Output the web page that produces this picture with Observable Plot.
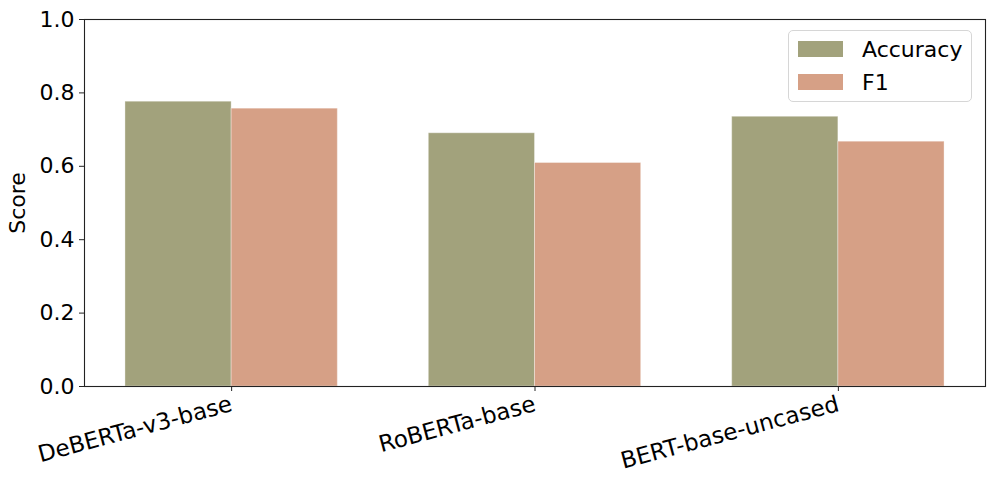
<!DOCTYPE html>
<html>
<head>
<meta charset="utf-8">
<script src="https://cdn.jsdelivr.net/npm/d3@7"></script>
<script src="https://cdn.jsdelivr.net/npm/@observablehq/plot@0.6"></script>
<style>
  html, body { margin: 0; padding: 0; background: #fff; }
  #wrap { position: relative; width: 996px; height: 485px; font-family: "DejaVu Sans", sans-serif; }
  .legend { position: absolute; left: 788px; top: 30px; width: 184px; height: 72px;
    border: 1px solid #d6d6d6; border-radius: 5px; background: rgba(255,255,255,0.85); box-sizing: border-box; }
  .legend .item { position: absolute; left: 9px; height: 22px; display: flex; align-items: center; font-size: 22px; color: #000; }
  .legend .sw { width: 45px; height: 16px; margin-right: 19px; }
</style>
</head>
<body>
<div id="wrap"></div>
<script>
const models = ["DeBERTa-v3-base", "RoBERTa-base", "BERT-base-uncased"];
const accuracy = [0.776, 0.690, 0.735];
const f1 = [0.757, 0.609, 0.667];
const metrics = ["Accuracy", "F1"];
const colors = ["#a2a27c", "#d6a086"];
const yTicks = [0, 0.2, 0.4, 0.6, 0.8, 1.0];

const barWidth = 0.35;
const rows = models.flatMap((m, i) => [
  {i, metric: "Accuracy", value: accuracy[i], x1: i - barWidth, x2: i},
  {i, metric: "F1", value: f1[i], x1: i, x2: i + barWidth}
]);

const chart = Plot.plot({
  width: 996,
  height: 485,
  marginLeft: 84,
  marginRight: 11,
  marginTop: 19,
  marginBottom: 99,
  style: {fontFamily: "DejaVu Sans, sans-serif", fontSize: "22px", color: "#000", background: "#fff"},
  x: {type: "linear", domain: [-0.485, 2.485]},
  y: {domain: [0, 1]},
  color: {domain: metrics, range: colors},
  marks: [
    Plot.rectY(rows, {x1: "x1", x2: "x2", y1: 0, y2: "value", fill: "metric", stroke: "#ffffff", strokeOpacity: 0.35, strokeWidth: 1}),
    Plot.frame({stroke: "#222", strokeWidth: 1.1}),
    Plot.axisY({ticks: yTicks, tickFormat: d => d.toFixed(1), tickSize: 5, tickPadding: 5, stroke: "#222", label: null}),
    Plot.axisX({ticks: [0, 1, 2], tickFormat: i => models[i], tickSize: 5, tickPadding: 12, tickRotate: -15, fontSize: 23, stroke: "#222", label: null}),
    Plot.text(["Score"], {frameAnchor: "left", dx: -67, rotate: -90, fontSize: 22, textAnchor: "middle"})
  ]
});

const wrap = document.getElementById("wrap");
wrap.appendChild(chart);

const legend = document.createElement("div");
legend.className = "legend";
metrics.forEach((m, k) => {
  const item = document.createElement("div");
  item.className = "item";
  item.style.top = (k === 0 ? 7 : 40) + "px";
  const sw = document.createElement("div");
  sw.className = "sw";
  sw.style.background = colors[k];
  const t = document.createElement("span");
  t.textContent = m;
  item.appendChild(sw);
  item.appendChild(t);
  legend.appendChild(item);
});
wrap.appendChild(legend);
</script>
</body>
</html>
